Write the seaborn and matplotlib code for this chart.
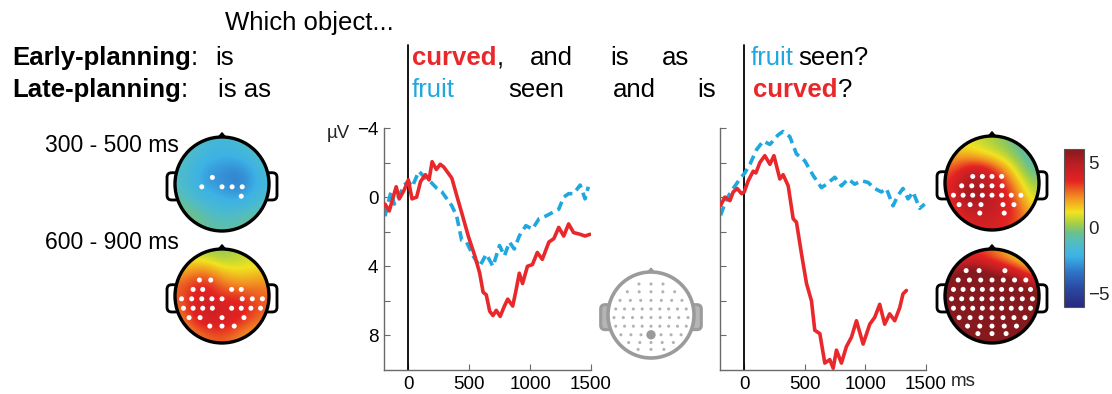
import numpy as np
import matplotlib
matplotlib.use("Agg")
import matplotlib.pyplot as plt
import seaborn as sns
from matplotlib.colors import LinearSegmentedColormap, Normalize
from matplotlib.cm import ScalarMappable
from matplotlib.patches import Circle, Polygon, FancyBboxPatch

# ---------------- ERP waveforms (time in ms, amplitude in µV; negative up) ----------------
w1_curved_t = [-192, -157, -100, -75, -35, 0, 30, 68, 100, 140, 170, 195, 230, 262, 290,
               357, 397, 438, 492, 546, 586, 614, 640, 668, 695, 722, 754, 789, 816, 857,
               884, 911, 938, 978, 1019, 1059, 1100, 1154, 1195, 1235, 1276, 1316, 1357,
               1411, 1451, 1492]
w1_curved_uv = [0.4, 0.8, -0.6, 0.1, -0.4, -1.0, 0.1, 0.0, -0.9, -1.3, -1.0, -2.05, -1.6,
                -1.9, -1.75, -1.1, -0.1, 0.9, 2.25, 3.4, 4.4, 5.5, 5.65, 6.6, 6.85, 6.55,
                6.9, 6.3, 5.9, 6.3, 5.4, 4.4, 5.0, 4.0, 3.9, 3.2, 3.6, 2.6, 2.4, 1.75, 2.25,
                1.55, 2.05, 2.15, 2.25, 2.15]

w1_fruit_t = [-192, -143, -116, -68, -35, 0, 32, 86, 140, 181, 235, 276, 357, 397, 438,
              478, 532, 586, 640, 695, 749, 789, 830, 870, 911, 965, 1019, 1073, 1127,
              1181, 1235, 1276, 1316, 1357, 1411, 1451, 1478]
w1_fruit_uv = [1.1, -0.3, 0.4, -0.2, -0.7, -0.9, -0.6, -1.5, -1.1, -0.9, -0.5, -0.3, 0.5,
               1.1, 2.5, 2.6, 3.4, 4.0, 3.3, 4.0, 2.8, 3.4, 2.6, 3.0, 2.25, 1.65, 1.85,
               1.25, 1.1, 0.9, 0.7, 0.0, -0.2, -0.2, -0.7, 0.1, -0.6]

w2_curved_t = [-195, -160, -118, -91, -58, -22, 0, 33, 74, 96, 129, 170, 212, 245, 294,
               321, 363, 404, 431, 473, 514, 555, 582, 624, 665, 706, 734, 761, 802, 843,
               885, 926, 981, 1036, 1077, 1118, 1159, 1200, 1242, 1283, 1310, 1338]
w2_curved_uv = [0.48, 0.0, 0.2, -0.3, -0.5, -0.2, -0.3, -0.95, -1.5, -1.4, -2.0, -2.4,
                -1.9, -2.4, -1.05, -1.3, -0.65, 1.25, 1.45, 3.3, 5.0, 6.0, 7.7, 7.9, 9.6,
                9.4, 9.9, 8.85, 9.6, 8.65, 8.1, 7.15, 8.5, 7.35, 6.95, 6.2, 7.35, 6.75,
                7.15, 6.4, 5.6, 5.4]

w2_fruit_t = [-195, -146, -91, -36, 5, 47, 102, 157, 212, 280, 321, 376, 431, 500, 569,
              637, 679, 747, 802, 857, 912, 967, 1022, 1077, 1132, 1173, 1228, 1269, 1310,
              1352, 1393, 1448, 1489]
w2_fruit_uv = [1.05, 0.1, -0.5, -1.05, -1.4, -1.9, -2.75, -3.25, -3.05, -3.6, -3.8, -3.5,
               -2.5, -2.1, -1.25, -0.55, -0.75, -1.15, -0.65, -1.05, -0.75, -0.95, -0.85,
               -0.5, -0.3, -0.5, 0.5, -0.1, -0.5, 0.1, -0.3, 0.65, 0.4]

tick_ms = [0, 500, 1000, 1500]
tick_ms_labels = ["0", "500", "1000", "1500"]
tick_uv = [-4, -2, 0, 2, 4, 6, 8]
tick_uv_labels = ["\u22124", "", "0", "", "4", "", "8"]

# ---------------- scalp maps: difference amplitude (µV), 7x7 grid, front row first ----------------
map_w1_300_500 = [[-0.6, -1.2, -1.6, -1.8, -1.6, -1.2, -0.8],
                  [-1.0, -1.6, -2.0, -2.2, -2.2, -1.8, -1.2],
                  [-1.2, -2.0, -2.6, -2.8, -3.0, -2.6, -1.6],
                  [-1.2, -2.0, -2.6, -2.8, -3.2, -2.8, -1.8],
                  [-0.8, -1.6, -1.8, -2.2, -2.4, -2.2, -1.4],
                  [-0.2, -0.6, -1.2, -1.6, -1.4, -1.2, -0.8],
                  [0.2, -0.2, -0.6, -0.8, -0.8, -0.4, -0.2]]
map_w1_600_900 = [[0.8, 0.8, 0.4, 0.2, 0.4, 0.8, 1.0],
                  [1.8, 2.2, 2.2, 1.4, 1.2, 1.2, 1.4],
                  [2.8, 3.4, 3.4, 2.6, 2.2, 2.2, 2.4],
                  [3.0, 3.8, 4.0, 3.4, 3.4, 3.2, 2.8],
                  [2.8, 4.0, 4.4, 4.0, 4.0, 3.6, 3.0],
                  [2.4, 3.4, 4.0, 4.0, 3.6, 3.0, 2.4],
                  [1.8, 2.4, 2.8, 3.0, 2.6, 2.0, 1.8]]
map_w2_300_500 = [[1.0, 1.0, 0.8, 0.4, 0.0, -0.6, -1.0],
                  [2.0, 2.0, 1.6, 1.2, 0.6, -0.2, -1.0],
                  [3.0, 4.0, 4.6, 3.6, 2.2, 0.6, -0.6],
                  [3.6, 5.2, 5.2, 4.6, 3.4, 1.6, 0.2],
                  [3.6, 5.6, 5.2, 4.8, 4.0, 2.4, 0.8],
                  [3.0, 4.6, 4.8, 4.6, 4.0, 3.0, 1.6],
                  [2.4, 3.6, 4.0, 4.0, 3.6, 3.0, 2.2]]
map_w2_600_900 = [[2.6, 3.4, 3.4, 2.8, 2.0, 1.0, 0.4],
                  [5.0, 6.0, 6.0, 5.0, 4.4, 3.4, 2.0],
                  [6.4, 7.0, 7.0, 7.0, 6.8, 6.0, 5.0],
                  [6.6, 7.0, 7.0, 7.0, 7.0, 7.0, 6.2],
                  [6.6, 7.0, 7.0, 7.0, 7.0, 7.0, 6.6],
                  [6.4, 7.0, 7.0, 7.0, 7.0, 7.0, 6.4],
                  [6.0, 6.6, 7.0, 7.0, 7.0, 6.6, 6.0]]

# significant electrodes per map: montage row -> columns
sig_w1_300_500 = {3: [3], 4: [2, 4, 5, 6], 5: [6]}
sig_w1_600_900 = {2: [1, 2], 3: [1, 2, 5, 6], 4: [0, 1, 2, 3, 4, 6, 7, 8],
                  5: [0, 1, 2, 3, 5, 6, 7, 8], 6: [0, 1, 3, 5], 7: [1, 2, 3]}
sig_w2_300_500 = {3: [2, 3, 4, 5], 4: [1, 2, 3, 4, 5], 5: [0, 1, 2, 3, 4, 5, 6, 7],
                  6: [0, 1, 2, 4, 5], 7: [1, 3]}
sig_w2_600_900 = {1: [0, 1, 3], 2: list(range(7)), 3: list(range(9)), 4: list(range(9)),
                  5: list(range(9)), 6: list(range(7)), 7: list(range(5)), 8: list(range(3))}

window_labels = ["300 - 500 ms", "600 - 900 ms"]
cbar_ticks = [-5, 0, 5]
cbar_labels = ["\u22125", "0", "5"]

# ---------------- style ----------------
sns.set_theme(style="white")
plt.rcParams["font.family"] = ["Liberation Sans", "DejaVu Sans"]
RED = "#e8282b"
BLUE = "#1fa7e0"
AXIS_GREY = "#6a6a6a"
FS_TEXT = 18.5
FS_TICK = 13.5

scalp_cmap = LinearSegmentedColormap.from_list("scalp", [
    (0.00, "#272a7e"), (0.12, "#2b4aa3"), (0.22, "#2f74c8"), (0.32, "#3cb2e6"),
    (0.40, "#4fbcc8"), (0.47, "#6cc08c"), (0.53, "#a6cf45"), (0.60, "#f1e31f"),
    (0.70, "#f28a22"), (0.80, "#e32322"), (0.90, "#bd1e24"), (1.00, "#85191d")])
scalp_norm = Normalize(vmin=-6, vmax=6)

W, H = 1112, 394
fig = plt.figure(figsize=(W / 100, H / 100), dpi=100)
fig.patch.set_facecolor("white")


def box(left, top, right, bottom):
    return [left / W, 1 - bottom / H, (right - left) / W, (bottom - top) / H]


# montage: (row y, electrodes in row, half width); head radius = 1, front is +y
MONTAGE = [(0.72, 3, 0.28), (0.54, 5, 0.55), (0.34, 7, 0.72), (0.14, 9, 0.82),
           (-0.06, 9, 0.86), (-0.26, 9, 0.82), (-0.46, 7, 0.70), (-0.64, 5, 0.52),
           (-0.80, 3, 0.30)]


def electrode_xy(selection):
    xs, ys = [], []
    for row, cols in selection.items():
        y, n, hw = MONTAGE[row]
        xr = np.linspace(-hw, hw, n)
        for c in cols:
            xs.append(xr[c])
            ys.append(y)
    return np.array(xs), np.array(ys)


def draw_head(ax, edge="black", ear_face="white", lw=2.4):
    for x0 in (-1.17, 0.89):
        ax.add_patch(FancyBboxPatch((x0, -0.34), 0.28, 0.58,
                                    boxstyle="round,pad=0,rounding_size=0.1",
                                    fc=ear_face, ec=edge, lw=lw * 0.85, zorder=1))
    ax.add_patch(Polygon([(-0.1, 0.97), (0, 1.09), (0.1, 0.97)], closed=True,
                         fc=edge, ec=edge, lw=1, zorder=1))
    ax.add_patch(Circle((0, 0), 1, fc="white", ec="none", zorder=2))
    ax.add_patch(Circle((0, 0), 1, fill=False, ec=edge, lw=lw, zorder=5))


def head_axes(cx, cy, r_px):
    side = 2.5 * r_px
    ax = fig.add_axes(box(cx - side / 2, cy - side / 2, cx + side / 2, cy + side / 2))
    ax.set_facecolor("none")
    return ax


def scalp_map(cx, cy, grid, sig):
    ax = head_axes(cx, cy, 47)
    draw_head(ax)
    im = ax.imshow(np.array(grid), cmap=scalp_cmap, norm=scalp_norm,
                   extent=(-1, 1, -1, 1), origin="upper", interpolation="bicubic",
                   zorder=3)
    im.set_clip_path(Circle((0, 0), 1, transform=ax.transData))
    xs, ys = electrode_xy(sig)
    sns.scatterplot(x=xs, y=ys, ax=ax, color="white", s=13, edgecolor="none",
                    zorder=6, legend=False)
    ax.set_xlim(-1.25, 1.25)
    ax.set_ylim(-1.25, 1.25)
    ax.set_aspect("equal")
    ax.axis("off")
    return ax


def erp_axes(left, right, curved_t, curved_uv, fruit_t, fruit_uv, ylabels):
    ax = fig.add_axes(box(left, 128, right, 370))
    ax.set_facecolor("none")
    ax.axvline(0, ymin=0, ymax=1 + 83 / 242, color="black", lw=1.3, clip_on=False,
               zorder=1)
    sns.lineplot(x=curved_t, y=curved_uv, ax=ax, color=RED, linewidth=2.6,
                 estimator=None, sort=False, zorder=3)
    sns.lineplot(x=fruit_t, y=fruit_uv, ax=ax, color=BLUE, linewidth=2.6,
                 linestyle=(0, (2.6, 1.5)), estimator=None, sort=False, zorder=2)
    ax.set_xlim(-200, 1500)
    ax.set_ylim(10, -4)
    ax.set_xticks(tick_ms)
    ax.set_xticklabels(tick_ms_labels)
    ax.set_yticks(tick_uv)
    ax.set_yticklabels(ylabels)
    ax.set_xlabel("")
    ax.set_ylabel("")
    sns.despine(ax=ax)
    for sp in ("left", "bottom"):
        ax.spines[sp].set_color(AXIS_GREY)
        ax.spines[sp].set_linewidth(1.0)
    ax.tick_params(axis="both", which="both", direction="in", length=4, width=0.8,
                   color=AXIS_GREY, labelsize=FS_TICK, labelcolor="black",
                   bottom=True, left=True, pad=4)
    return ax


# ---------------- ERP panels ----------------
ax_w1 = erp_axes(384, 591, w1_curved_t, w1_curved_uv, w1_fruit_t, w1_fruit_uv,
                 tick_uv_labels)
ax_w2 = erp_axes(720, 926, w2_curved_t, w2_curved_uv, w2_fruit_t, w2_fruit_uv,
                 [""] * len(tick_uv))

# ---------------- scalp maps ----------------
scalp_map(222, 184, map_w1_300_500, sig_w1_300_500)
scalp_map(222, 296, map_w1_600_900, sig_w1_600_900)
scalp_map(992, 183, map_w2_300_500, sig_w2_300_500)
scalp_map(992, 296, map_w2_600_900, sig_w2_600_900)

# electrode layout with the plotted channel highlighted
ax_lay = head_axes(651, 315, 43)
draw_head(ax_lay, edge="#9b9b9b", ear_face="#b5b5b5", lw=2.6)
all_rows = {i: list(range(n)) for i, (_, n, _) in enumerate(MONTAGE)}
lx, ly = electrode_xy(all_rows)
sns.scatterplot(x=lx, y=ly, ax=ax_lay, color="#b3b3b3", s=5, edgecolor="none",
                zorder=6, legend=False)
px, py = electrode_xy({6: [3]})
sns.scatterplot(x=px, y=py, ax=ax_lay, color="#9a9a9a", s=45, edgecolor="none",
                zorder=7, legend=False)
ax_lay.set_xlim(-1.25, 1.25)
ax_lay.set_ylim(-1.25, 1.25)
ax_lay.set_aspect("equal")
ax_lay.axis("off")

# ---------------- colour bar ----------------
cax = fig.add_axes(box(1064, 149, 1084, 307))
cb = fig.colorbar(ScalarMappable(norm=scalp_norm, cmap=scalp_cmap), cax=cax,
                  ticks=cbar_ticks)
cb.ax.set_yticklabels(cbar_labels)
cb.ax.tick_params(length=0, labelsize=FS_TICK, pad=3)
cb.outline.set_edgecolor("#555555")
cb.outline.set_linewidth(0.8)

# ---------------- text layer (pixel coordinates) ----------------
tax = fig.add_axes([0, 0, 1, 1], zorder=10)
tax.set_xlim(0, W)
tax.set_ylim(H, 0)
tax.axis("off")


def word(x, y, s, color="black", bold=False, size=FS_TEXT):
    return tax.text(x, y, s, color=color, fontsize=size, va="baseline", ha="left",
                    fontweight="bold" if bold else "normal")


def trail(prev, s, color="black"):
    return tax.annotate(s, xy=(1, 0), xycoords=prev, va="bottom", ha="left",
                        color=color, fontsize=FS_TEXT)


ROW0, ROW1, ROW2 = 30, 65, 97
word(225, ROW0, "Which object...")

t = word(12, ROW1, "Early-planning", bold=True)
trail(t, ":")
word(215, ROW1, "is")
t = word(412, ROW1, "curved", color=RED, bold=True)
trail(t, ",")
word(530, ROW1, "and")
word(610, ROW1, "is")
word(662, ROW1, "as")
word(751, ROW1, "fruit", color=BLUE)
word(798, ROW1, "seen?")

t = word(12, ROW2, "Late-planning", bold=True)
trail(t, ":")
word(218, ROW2, "is as")
word(412, ROW2, "fruit", color=BLUE)
word(508, ROW2, "seen")
word(613, ROW2, "and")
word(697, ROW2, "is")
t = word(753, ROW2, "curved", color=RED, bold=True)
trail(t, "?")

word(45, 152, window_labels[0], size=16.5)
word(45, 249, window_labels[1], size=16.5)

tax.text(327, 133, "\u00b5V", fontsize=FS_TICK, va="center", ha="left")
tax.text(951, 382, "ms", fontsize=FS_TICK, va="center", ha="left")

fig.savefig("out.png", dpi=100, facecolor="white")
